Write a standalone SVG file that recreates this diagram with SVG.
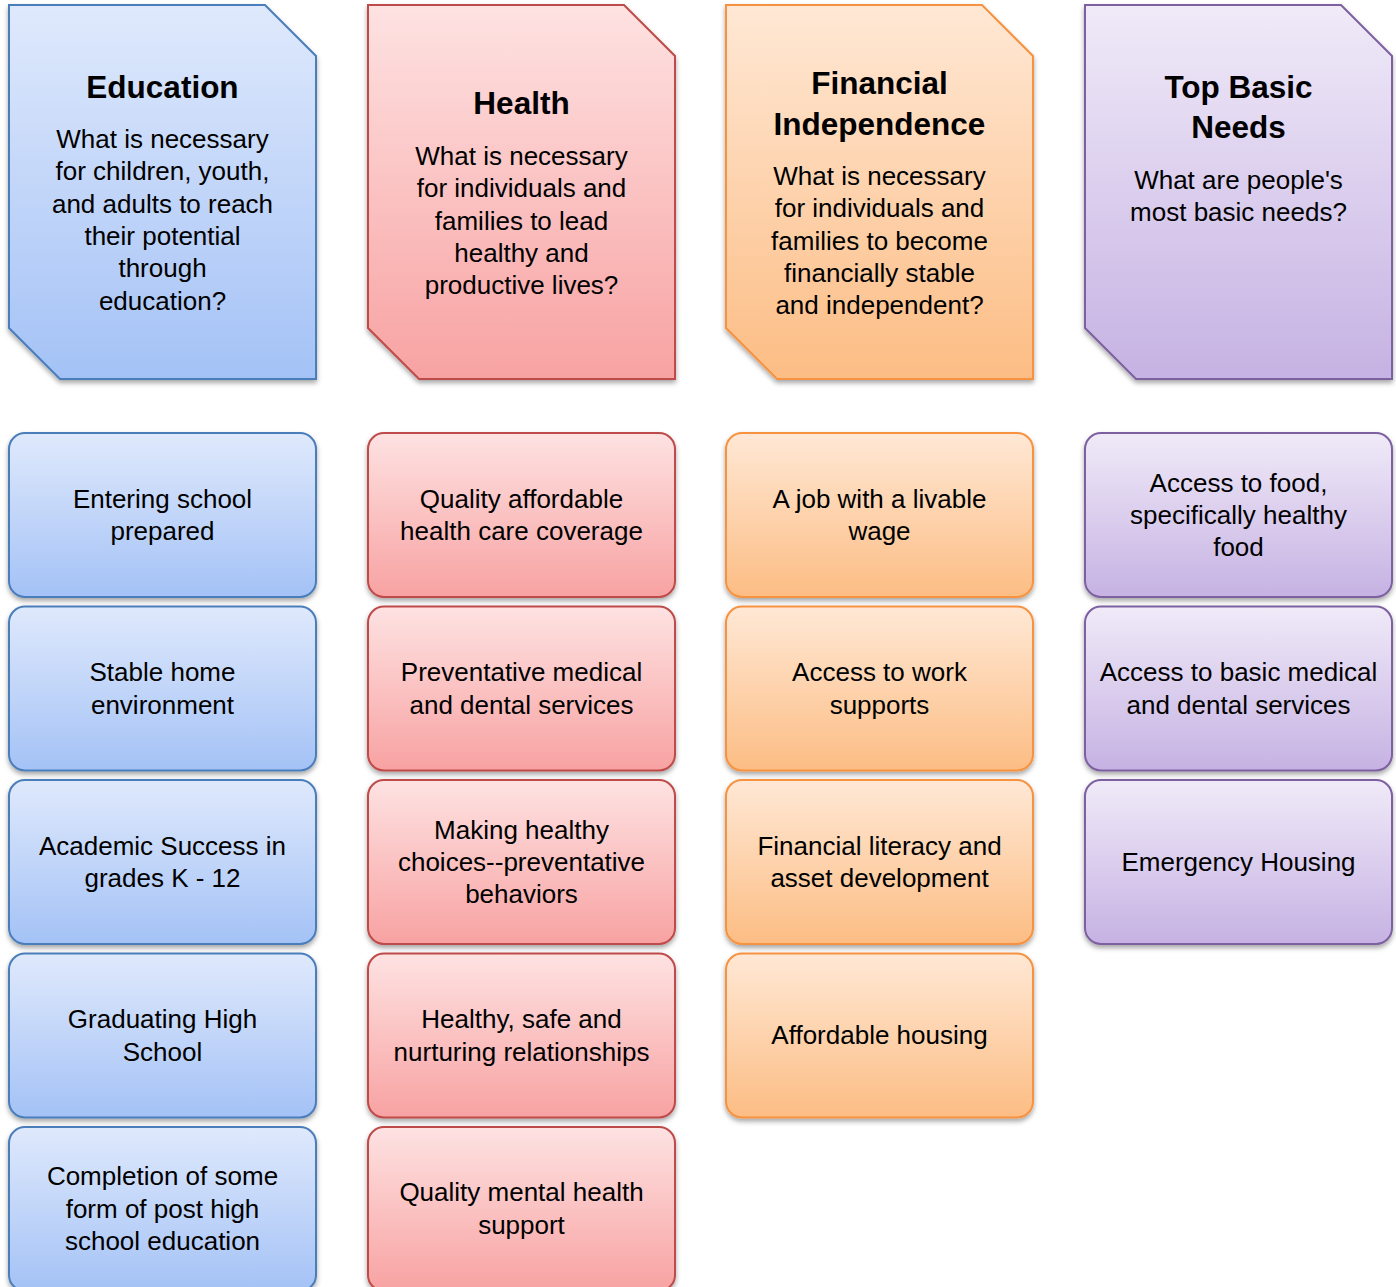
<svg xmlns="http://www.w3.org/2000/svg" width="1396" height="1287" viewBox="0 0 1396 1287">
<style>
text{font-family:"Liberation Sans",Arial,sans-serif;fill:#000;text-anchor:middle}
.t{font-size:31.5px;font-weight:bold}
.b{font-size:26px}
.sh{stroke-width:2;filter:url(#ds)}
.blue{fill:url(#gb);stroke:#4a7ebb}
.red{fill:url(#gr);stroke:#be4b48}
.org{fill:url(#go);stroke:#f69240}
.pur{fill:url(#gp);stroke:#7d60a0}
</style>
<defs>
<filter id="ds" x="-10%" y="-10%" width="120%" height="125%">
<feDropShadow dx="0" dy="3" stdDeviation="2.5" flood-color="#000" flood-opacity="0.35"/>
</filter>
<linearGradient id="gb" x1="0" y1="0" x2="0" y2="1"><stop offset="0" stop-color="#dfe9fc"/><stop offset="1" stop-color="#a4c2f6"/></linearGradient>
<linearGradient id="gr" x1="0" y1="0" x2="0" y2="1"><stop offset="0" stop-color="#fee2e2"/><stop offset="1" stop-color="#f8a2a2"/></linearGradient>
<linearGradient id="go" x1="0" y1="0" x2="0" y2="1"><stop offset="0" stop-color="#ffe8d5"/><stop offset="1" stop-color="#fcbd84"/></linearGradient>
<linearGradient id="gp" x1="0" y1="0" x2="0" y2="1"><stop offset="0" stop-color="#f0eaf8"/><stop offset="1" stop-color="#c6b2e3"/></linearGradient>
</defs>

<!-- Headers -->
<g id="h-education">
<polygon class="sh blue" points="9,5 265,5 316,56 316,379 60,379 9,328"/>
<text class="t" x="162.5" y="98">Education</text>
<text class="b" x="162.5" y="148">What is necessary</text>
<text class="b" x="162.5" y="180.3">for children, youth,</text>
<text class="b" x="162.5" y="212.6">and adults to reach</text>
<text class="b" x="162.5" y="244.9">their potential</text>
<text class="b" x="162.5" y="277.2">through</text>
<text class="b" x="162.5" y="309.5">education?</text>
</g>
<g id="h-health">
<polygon class="sh red" points="368,5 624,5 675,56 675,379 419,379 368,328"/>
<text class="t" x="521.5" y="114">Health</text>
<text class="b" x="521.5" y="165">What is necessary</text>
<text class="b" x="521.5" y="197.3">for individuals and</text>
<text class="b" x="521.5" y="229.6">families to lead</text>
<text class="b" x="521.5" y="261.9">healthy and</text>
<text class="b" x="521.5" y="294.2">productive lives?</text>
</g>
<g id="h-financial">
<polygon class="sh org" points="726,5 982,5 1033,56 1033,379 777,379 726,328"/>
<text class="t" x="879.5" y="94">Financial</text>
<text class="t" x="879.5" y="135">Independence</text>
<text class="b" x="879.5" y="185">What is necessary</text>
<text class="b" x="879.5" y="217.3">for individuals and</text>
<text class="b" x="879.5" y="249.6">families to become</text>
<text class="b" x="879.5" y="281.9">financially stable</text>
<text class="b" x="879.5" y="314.2">and independent?</text>
</g>
<g id="h-basic">
<polygon class="sh pur" points="1085,5 1341,5 1392,56 1392,379 1136,379 1085,328"/>
<text class="t" x="1238.5" y="98">Top Basic</text>
<text class="t" x="1238.5" y="138">Needs</text>
<text class="b" x="1238.5" y="189">What are people's</text>
<text class="b" x="1238.5" y="221.3">most basic needs?</text>
</g>

<!-- Education column -->
<g id="e1"><rect class="sh blue" x="9" y="433" width="307" height="164" rx="16"/>
<text class="b" x="162.5" y="507.8">Entering school</text><text class="b" x="162.5" y="540.2">prepared</text></g>
<g id="e2"><rect class="sh blue" x="9" y="606.5" width="307" height="164" rx="16"/>
<text class="b" x="162.5" y="681.3">Stable home</text><text class="b" x="162.5" y="713.7">environment</text></g>
<g id="e3"><rect class="sh blue" x="9" y="780" width="307" height="164" rx="16"/>
<text class="b" x="162.5" y="854.8">Academic Success in</text><text class="b" x="162.5" y="887.2">grades K - 12</text></g>
<g id="e4"><rect class="sh blue" x="9" y="953.5" width="307" height="164" rx="16"/>
<text class="b" x="162.5" y="1028.3">Graduating High</text><text class="b" x="162.5" y="1060.7">School</text></g>
<g id="e5"><rect class="sh blue" x="9" y="1127" width="307" height="164" rx="16"/>
<text class="b" x="162.5" y="1185.2">Completion of some</text><text class="b" x="162.5" y="1217.5">form of post high</text><text class="b" x="162.5" y="1249.8">school education</text></g>

<!-- Health column -->
<g id="hl1"><rect class="sh red" x="368" y="433" width="307" height="164" rx="16"/>
<text class="b" x="521.5" y="507.8">Quality affordable</text><text class="b" x="521.5" y="540.2">health care coverage</text></g>
<g id="hl2"><rect class="sh red" x="368" y="606.5" width="307" height="164" rx="16"/>
<text class="b" x="521.5" y="681.3">Preventative medical</text><text class="b" x="521.5" y="713.7">and dental services</text></g>
<g id="hl3"><rect class="sh red" x="368" y="780" width="307" height="164" rx="16"/>
<text class="b" x="521.5" y="838.7">Making healthy</text><text class="b" x="521.5" y="871">choices--preventative</text><text class="b" x="521.5" y="903.3">behaviors</text></g>
<g id="hl4"><rect class="sh red" x="368" y="953.5" width="307" height="164" rx="16"/>
<text class="b" x="521.5" y="1028.3">Healthy, safe and</text><text class="b" x="521.5" y="1060.7">nurturing relationships</text></g>
<g id="hl5"><rect class="sh red" x="368" y="1127" width="307" height="164" rx="16"/>
<text class="b" x="521.5" y="1201.3">Quality mental health</text><text class="b" x="521.5" y="1233.7">support</text></g>

<!-- Financial column -->
<g id="f1"><rect class="sh org" x="726" y="433" width="307" height="164" rx="16"/>
<text class="b" x="879.5" y="507.8">A job with a livable</text><text class="b" x="879.5" y="540.2">wage</text></g>
<g id="f2"><rect class="sh org" x="726" y="606.5" width="307" height="164" rx="16"/>
<text class="b" x="879.5" y="681.3">Access to work</text><text class="b" x="879.5" y="713.7">supports</text></g>
<g id="f3"><rect class="sh org" x="726" y="780" width="307" height="164" rx="16"/>
<text class="b" x="879.5" y="854.8">Financial literacy and</text><text class="b" x="879.5" y="887.2">asset development</text></g>
<g id="f4"><rect class="sh org" x="726" y="953.5" width="307" height="164" rx="16"/>
<text class="b" x="879.5" y="1044">Affordable housing</text></g>

<!-- Basic needs column -->
<g id="p1"><rect class="sh pur" x="1085" y="433" width="307" height="164" rx="16"/>
<text class="b" x="1238.5" y="491.7">Access to food,</text><text class="b" x="1238.5" y="524">specifically healthy</text><text class="b" x="1238.5" y="556.3">food</text></g>
<g id="p2"><rect class="sh pur" x="1085" y="606.5" width="307" height="164" rx="16"/>
<text class="b" x="1238.5" y="681.3">Access to basic medical</text><text class="b" x="1238.5" y="713.7">and dental services</text></g>
<g id="p3"><rect class="sh pur" x="1085" y="780" width="307" height="164" rx="16"/>
<text class="b" x="1238.5" y="871">Emergency Housing</text></g>

<g id="connectors"></g>
</svg>
